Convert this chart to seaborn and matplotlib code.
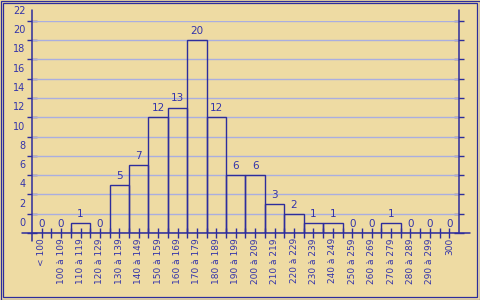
import matplotlib
matplotlib.use("Agg")
import matplotlib.pyplot as plt
import matplotlib.transforms as mtransforms
from matplotlib.patches import Rectangle
import seaborn as sns
import numpy as np

# ---- data ----
categories = ["< 100", "100 à 109", "110 à 119", "120 à 129", "130 à 139", "140 à 149",
              "150 à 159", "160 à 169", "170 à 179", "180 à 189", "190 à 199", "200 à 209",
              "210 à 219", "220 à 229", "230 à 239", "240 à 249", "250 à 259", "260 à 269",
              "270 à 279", "280 à 289", "290 à 299", "300"]
counts = [0, 0, 1, 0, 5, 7, 12, 13, 20, 12, 6, 6, 3, 2, 1, 1, 0, 0, 1, 0, 0, 0]
y_ticks = [0, 2, 4, 6, 8, 10, 12, 14, 16, 18, 20, 22]

BG = "#EEDBA3"
AXIS = "#2d2d9c"
TEXT = "#3434aa"
GRID = "#aaaee0"

sns.set_theme(style="white")
plt.rcParams["font.family"] = ["DejaVu Sans"]

W, H = 480, 300
fig = plt.figure(figsize=(W / 100, H / 100), dpi=100)
fig.patch.set_facecolor(BG)

x0, x1 = 32, 459
y0, y1 = 233, 20.7
ax = fig.add_axes([x0 / W, 1 - y0 / H, (x1 - x0) / W, (y0 - y1) / H])
ax.set_facecolor("none")

sns.barplot(x=categories, y=counts, ax=ax, width=1, fill=False,
            color=AXIS, linewidth=1.0, zorder=3)
for p in ax.patches:
    p.set_edgecolor(AXIS)
    p.set_facecolor("none")

ax.set_xlim(-0.5, len(categories) - 0.5)
ax.set_ylim(0, 22)
for s in ax.spines.values():
    s.set_visible(False)

# grid
for v in y_ticks[1:]:
    ax.axhline(v, color=GRID, lw=1.0, zorder=1)

# axis lines extending beyond plot
ax.axhline(0, xmin=-10 / 427, xmax=1 + 11 / 427, color=AXIS, lw=1.1, clip_on=False, zorder=4)
ax.axvline(-0.5, ymin=-8 / 212.3, ymax=1 + 10.7 / 212.3, color=AXIS, lw=1.1, clip_on=False, zorder=4)
ax.axvline(len(categories) - 0.5, ymin=0, ymax=1 + 10.7 / 212.3, color=AXIS, lw=1.1, clip_on=False, zorder=4)

# y ticks
ax.set_yticks(y_ticks)
ax.set_yticklabels([str(v) for v in y_ticks])
ax.tick_params(axis="y", which="major", direction="inout", length=6.5, width=1.0,
               color=AXIS, labelcolor=TEXT, labelsize=7, pad=1.5,
               left=True, right=True, labelleft=True, labelright=False)
off = mtransforms.ScaledTranslation(0, 5 / 100, fig.dpi_scale_trans)
for lab in ax.get_yticklabels():
    lab.set_verticalalignment("bottom")
    lab.set_transform(lab.get_transform() + off)

# x ticks
ax.set_xticks(range(len(categories)))
ax.set_xticklabels(categories, rotation=90, ha="center", va="top")
ax.set_xticks([i + 0.5 for i in range(len(categories) - 1)], minor=True)
ax.tick_params(axis="x", which="both", direction="inout", length=6.5, width=1.0,
               color=AXIS, labelcolor=TEXT, labelsize=6.5, pad=0.5, bottom=True)
ax.set_xlabel("")
ax.set_ylabel("")

# value labels
for i, v in enumerate(counts):
    ax.annotate(str(v), (i, v), xytext=(0, 3), textcoords="offset points",
                ha="center", va="bottom", fontsize=7.5, color=TEXT, zorder=5)

# double frame
fig.add_artist(Rectangle((0.5 / W, 0.5 / H), 1 - 1 / W, 1 - 1 / H, transform=fig.transFigure,
                         fill=False, edgecolor=AXIS, lw=0.9))
fig.add_artist(Rectangle((2.5 / W, 3.5 / H), 474 / W, 294 / H, transform=fig.transFigure,
                         fill=False, edgecolor=AXIS, lw=0.9))

fig.savefig("out.png", dpi=100, facecolor=BG)
